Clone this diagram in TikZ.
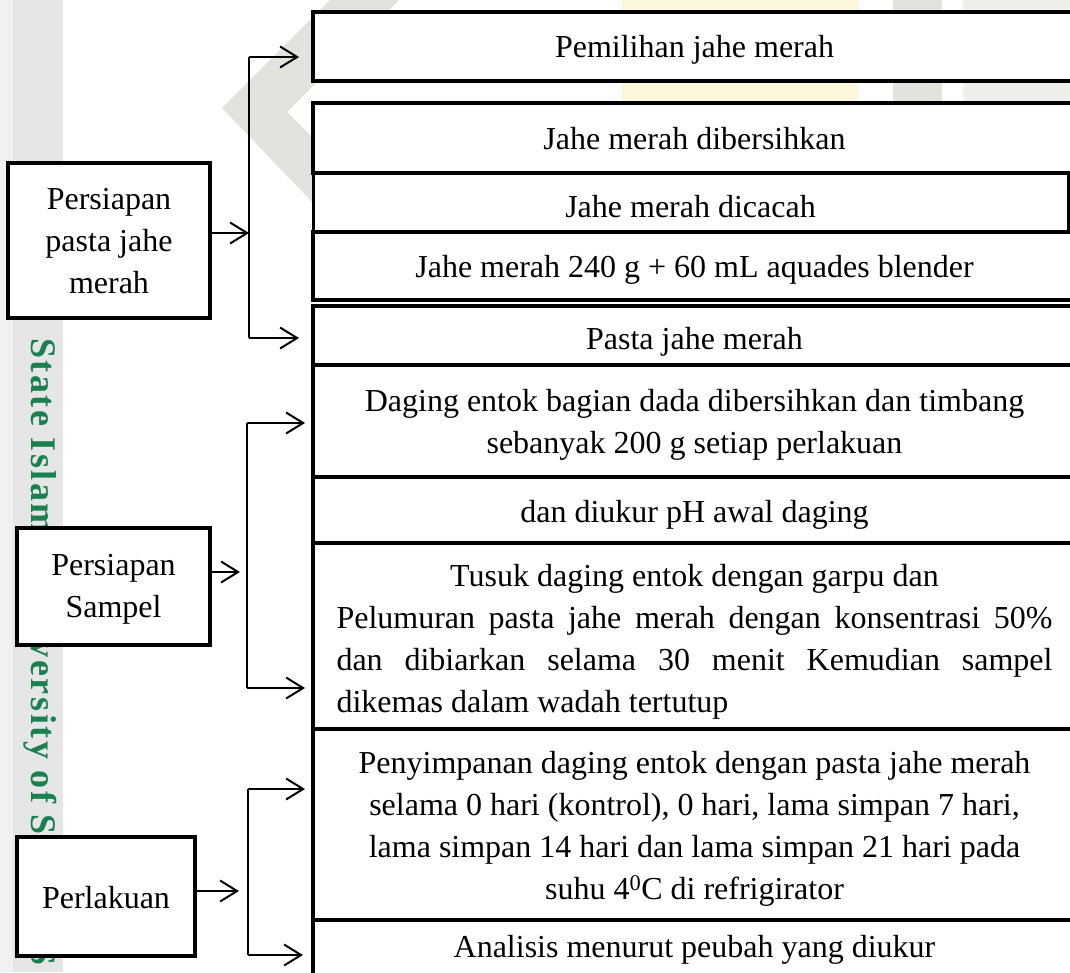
\documentclass[tikz,border=0pt]{standalone}
\usepackage{fontspec}
\setmainfont{Liberation Serif}
\newfontfamily\wmfont[LetterSpace=7]{Liberation Serif}
\usetikzlibrary{arrows.meta}
\definecolor{bandlight}{RGB}{241,241,243}
\definecolor{banddark}{RGB}{230,230,231}
\definecolor{wmgreen}{RGB}{26,128,80}
\definecolor{wmgray}{RGB}{226,227,221}
\definecolor{wmgraylight}{RGB}{238,238,234}
\definecolor{wmyellow}{RGB}{252,246,218}
\newcommand{\txtsize}{\fontsize{32}{42}\selectfont}
\newcommand{\tx}[2]{\raisebox{#1}[\height][\depth]{\begin{tabular}{@{}c@{}}#2\end{tabular}}}
\begin{document}
\begin{tikzpicture}[x=1pt,y=-1pt,
  rowbox/.style={draw, line width=4.5pt, fill=white, minimum width=763pt,
    inner sep=0pt, outer sep=0pt, align=center, font=\txtsize},
  leftbox/.style={draw, line width=4pt, fill=white, inner sep=0pt,
    outer sep=0pt, align=center, font=\txtsize},
  conn/.style={line width=2pt},
  arr/.style={conn, -{Straight Barb[length=17pt,width=21pt,line width=2pt]}}]
\useasboundingbox (0,0) rectangle (1070,972);
\clip (0,0) rectangle (1070,972);
% watermark background
\fill[white] (0,0) rectangle (1070,972);
\fill[bandlight] (0,0) rectangle (13,972);
\fill[banddark] (13,0) rectangle (63,972);
\node[rotate=-90, anchor=base west, inner sep=0pt, text=wmgreen,
  font=\wmfont\bfseries\fontsize{36}{40}\selectfont] (wm) at (31,338)
  {State Islamic University of Sultan\kern18pt S};
\fill[wmgray] (222,108) -- (330,0) -- (399,0) -- (287,112) -- (380,205)
  -- (315,205) -- cycle;
\fill[wmyellow] (622,0) rectangle (858,105);
\fill[wmgray] (893,0) rectangle (942,105);
\fill[wmgraylight] (963,0) rectangle (1070,105);
% right column
\node[rowbox, minimum height=69pt] (r1) at (694.5,46.5) {\tx{-3pt}{Pemilihan jahe merah}};
\node[rowbox, minimum height=70pt] (r2) at (694.5,138) {\tx{-3pt}{Jahe merah dibersihkan}};
\node[rowbox, minimum height=59pt, minimum width=755pt, line width=3pt] (r3) at (690.5,202.5) {\tx{-7pt}{Jahe merah dicacah}};
\draw[line width=4.5pt] (r3.north west) -- ++(770,0);
\draw[line width=4.5pt] (r3.south west) -- ++(770,0);
\node[rowbox, minimum height=68pt] (r4) at (694.5,266) {\tx{-3pt}{Jahe merah 240 g + 60 mL aquades blender}};
\node[rowbox, minimum height=59pt] (r5) at (694.5,335.5) {\tx{-6pt}{Pasta jahe merah}};
\node[rowbox, minimum height=112pt] (r6) at (694.5,421) {\tx{-3pt}{Daging entok bagian dada dibersihkan dan timbang\\sebanyak 200 g setiap perlakuan}};
\node[rowbox, minimum height=66pt] (r7) at (694.5,510) {\tx{-4pt}{dan diukur pH awal daging}};
\node[rowbox, minimum height=186pt] (r8) at (694.5,636) {\tx{-5pt}{%
  \makebox[716pt][c]{Tusuk daging entok dengan garpu dan}\\
  \makebox[716pt][s]{Pelumuran pasta jahe merah dengan konsentrasi 50\%}\\
  \makebox[716pt][s]{dan dibiarkan selama 30 menit Kemudian sampel}\\
  \makebox[716pt][l]{dikemas dalam wadah tertutup}}};
\node[rowbox, minimum height=191pt] (r9) at (694.5,824.5) {\tx{-4pt}{Penyimpanan daging entok dengan pasta jahe merah\\selama 0 hari (kontrol), 0 hari, lama simpan 7 hari,\\lama simpan 14 hari dan lama simpan 21 hari pada\\suhu 4\textsuperscript{0}C di refrigirator}};
\node[rowbox, minimum height=56pt] (r10) at (694.5,948) {\tx{-1pt}{Analisis menurut peubah yang diukur}};
% left column
\node[leftbox, minimum width=202pt, minimum height=155pt] (L1) at (109,240.5) {\tx{-3pt}{Persiapan\\pasta jahe\\merah}};
\node[leftbox, minimum width=193pt, minimum height=117pt] (L2) at (113.5,586.5) {\tx{-2pt}{Persiapan\\Sampel}};
\node[leftbox, minimum width=178pt, minimum height=119pt] (L3) at (106,896.5) {\tx{-4pt}{Perlakuan}};
% group 1
\coordinate (b1t) at (249,57);
\coordinate (b1m) at (249,233);
\coordinate (b1b) at (249,338);
\draw[conn] (b1t) -- (b1b);
\draw[arr] (L1.east |- b1m) -- (b1m);
\draw[arr, shorten >=14pt] (b1t) -- (r1.west |- b1t);
\draw[arr, shorten >=14pt] (b1b) -- (r5.west |- b1b);
% group 2
\coordinate (b2t) at (247,423);
\coordinate (b2m) at (247,572);
\coordinate (b2b) at (247,688);
\draw[conn] (b2t) -- (b2b);
\draw[arr, shorten >=7pt] (L2.east |- b2m) -- (b2m);
\draw[arr, shorten >=8pt] (b2t) -- (r6.west |- b2t);
\draw[arr, shorten >=8pt] (b2b) -- (r8.west |- b2b);
% group 3
\coordinate (b3t) at (248,789);
\coordinate (b3m) at (248,891);
\coordinate (b3b) at (248,955);
\draw[conn] (b3t) -- (b3b);
\draw[arr, shorten >=9pt] (L3.east |- b3m) -- (b3m);
\draw[arr, shorten >=8pt] (b3t) -- (r9.west |- b3t);
\draw[arr, shorten >=10pt] (b3b) -- (r10.west |- b3b);
\end{tikzpicture}
\end{document}
